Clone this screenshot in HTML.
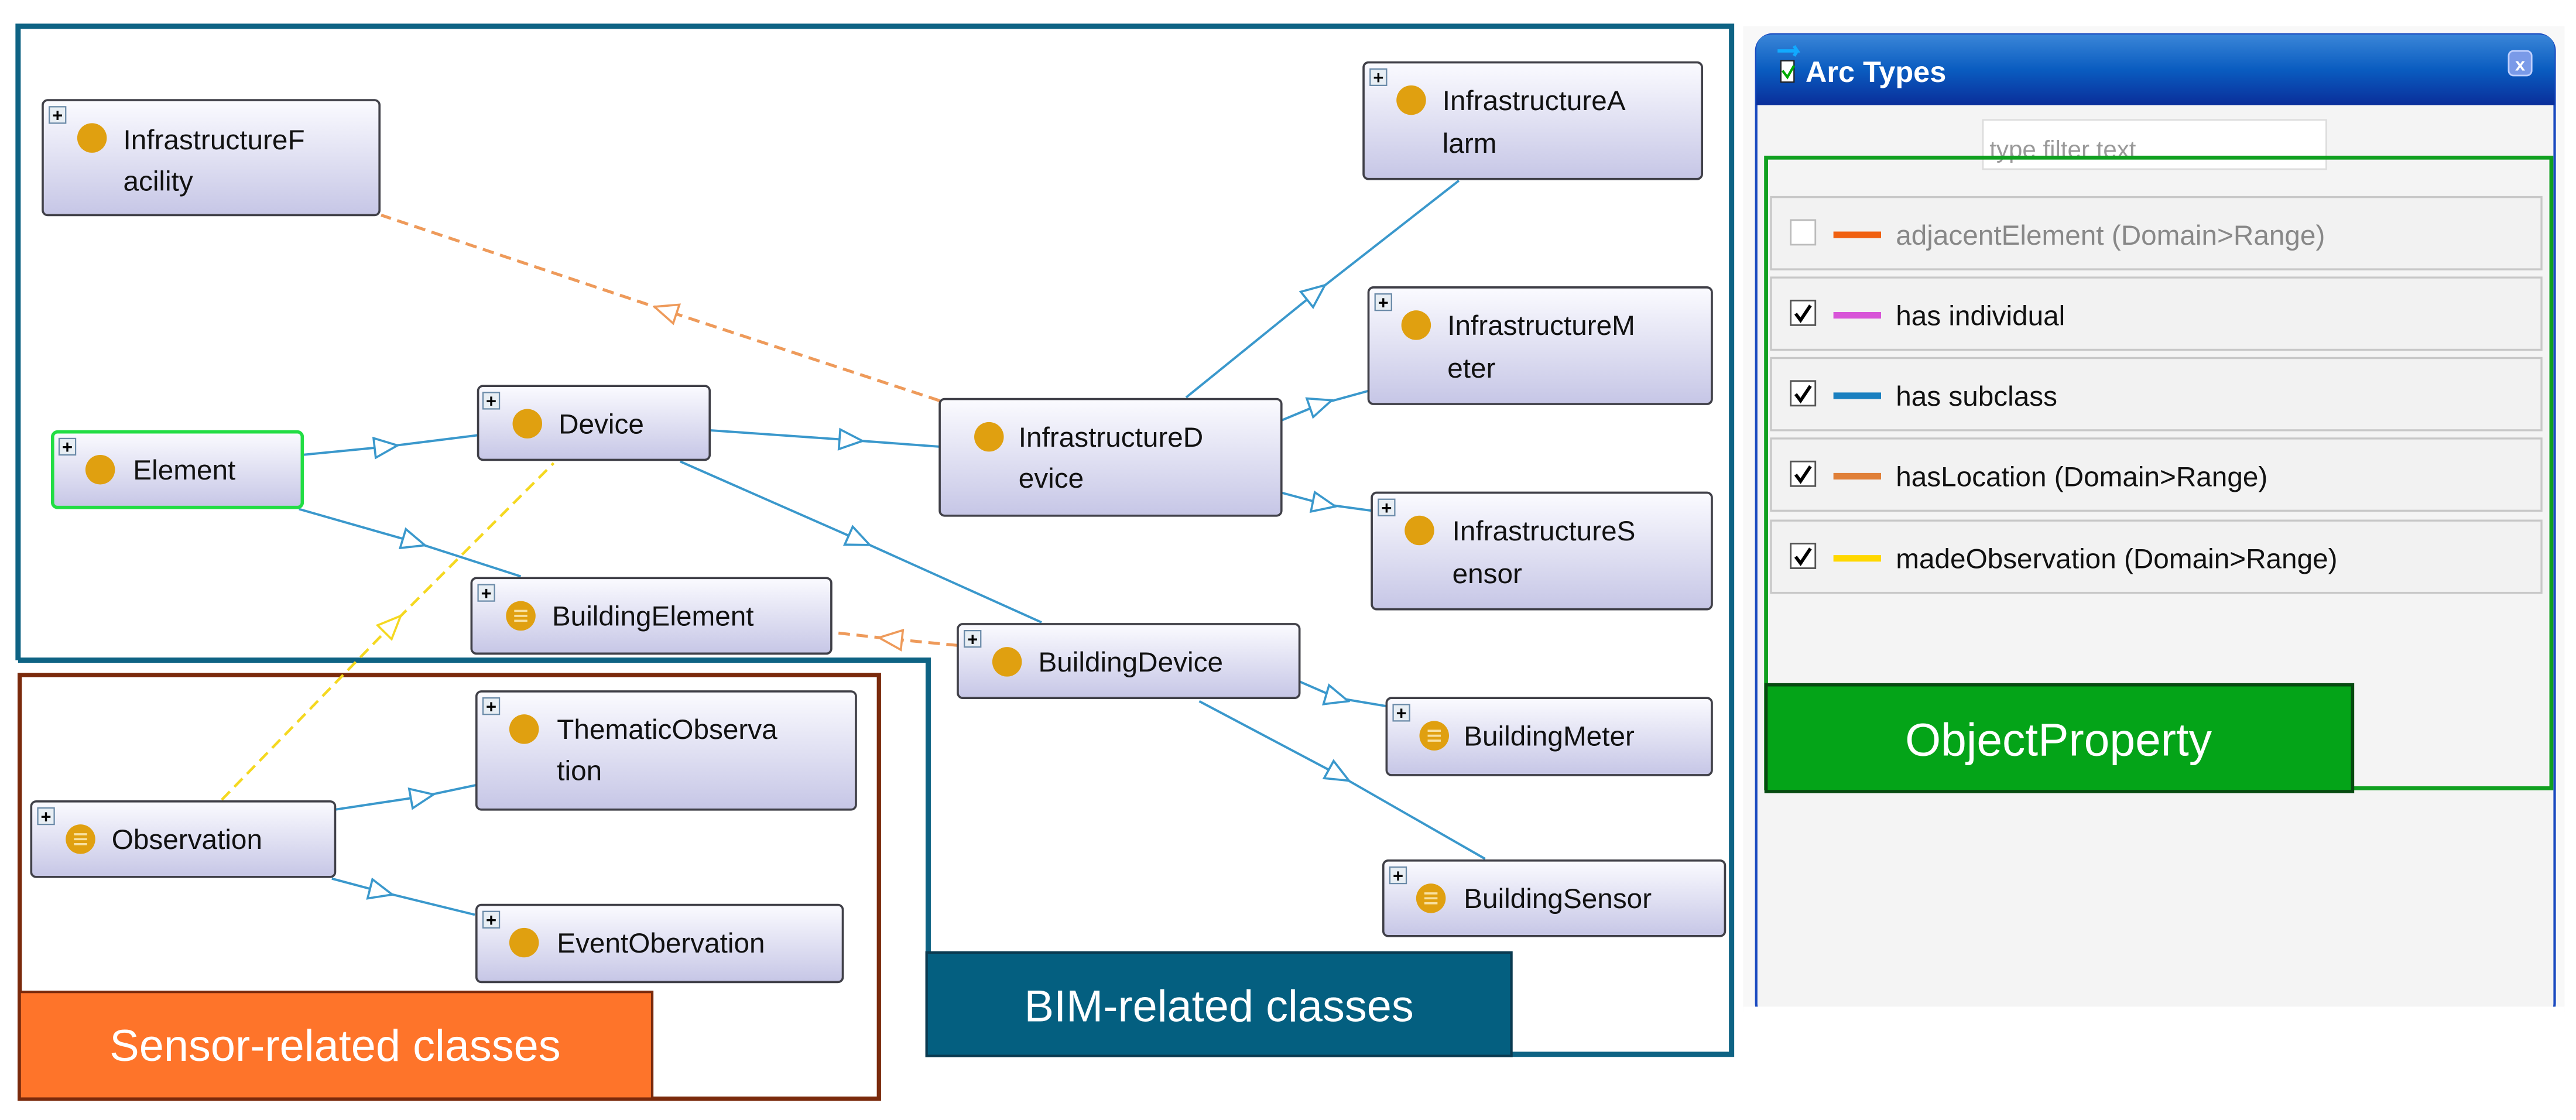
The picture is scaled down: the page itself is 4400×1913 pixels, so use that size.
<!DOCTYPE html>
<html><head><meta charset="utf-8"><style>
html,body{margin:0;padding:0;background:#fff;width:4400px;height:1913px;overflow:hidden}
svg{display:block}
.t{font-family:"Liberation Sans Narrow","Liberation Sans",sans-serif;font-size:17px;fill:#111}
.p{font-family:"Liberation Sans Narrow","Liberation Sans",sans-serif;font-size:17px;fill:#111}
</style></head><body>
<svg width="4400" height="1913" viewBox="0 0 1568 682" preserveAspectRatio="none" xmlns="http://www.w3.org/2000/svg">
<defs>
<linearGradient id="g" x1="0" y1="0" x2="0" y2="1"><stop offset="0" stop-color="#fbfbff"/><stop offset="1" stop-color="#c6c6e6"/></linearGradient>
<linearGradient id="hb" x1="0" y1="0" x2="0" y2="1"><stop offset="0" stop-color="#3a86d8"/><stop offset="0.5" stop-color="#0a5cc0"/><stop offset="1" stop-color="#0a2e9a"/></linearGradient>
<marker id="ab" viewBox="0 0 16 14" refX="8" refY="7" markerWidth="16" markerHeight="14" markerUnits="userSpaceOnUse" orient="auto"><path d="M1,1 L15,7 L1,13 Z" fill="#fff" stroke="#3a98cc" stroke-width="1.3"/></marker>
<marker id="ao" viewBox="0 0 16 14" refX="8" refY="7" markerWidth="16" markerHeight="14" markerUnits="userSpaceOnUse" orient="auto"><path d="M1,1 L15,7 L1,13 Z" fill="#fff" stroke="#ee9a5a" stroke-width="1.3"/></marker>
<marker id="ay" viewBox="0 0 16 14" refX="8" refY="7" markerWidth="16" markerHeight="14" markerUnits="userSpaceOnUse" orient="auto"><path d="M1,1 L15,7 L1,13 Z" fill="#fff" stroke="#f5d820" stroke-width="1.3"/></marker>
</defs>

<!-- frames -->
<path d="M11,402 L11,16 L1054,16 L1054,642 L920,642" fill="none" stroke="#0e6384" stroke-width="3.2"/>
<path d="M11,402 L565,402 L565,600" fill="none" stroke="#0e6384" stroke-width="3.2"/>
<rect x="12" y="411" width="523" height="258" fill="none" stroke="#7a2a0c" stroke-width="2.6"/>
<rect x="564" y="580" width="356" height="63" fill="#045f80" stroke="#0a3a50" stroke-width="1.5"/>
<text x="742" y="622" text-anchor="middle" font-family="Liberation Sans,sans-serif" font-size="27" fill="#fff">BIM-related classes</text>
<rect x="12" y="604" width="385" height="65" fill="#fe742a" stroke="#7a2a0c" stroke-width="1.5"/>
<text x="204" y="646" text-anchor="middle" font-family="Liberation Sans,sans-serif" font-size="27" fill="#fff">Sensor-related classes</text>

<!-- edges -->
<g fill="none" stroke="#3a98cc" stroke-width="1.4">
<polyline points="184,277 235,272 291,265" marker-mid="url(#ab)"/>
<polyline points="182,310 252,330 317,351" marker-mid="url(#ab)"/>
<polyline points="432,262 518,268 572,272" marker-mid="url(#ab)"/>
<polyline points="414,281 523,329 634,379" marker-mid="url(#ab)"/>
<polyline points="722,242 801,178 888,110" marker-mid="url(#ab)"/>
<polyline points="780,256 804,246 833,238" marker-mid="url(#ab)"/>
<polyline points="780,300 806,307 835,311" marker-mid="url(#ab)"/>
<polyline points="791,415 814,425 844,430" marker-mid="url(#ab)"/>
<polyline points="730,427 815,472 904,523" marker-mid="url(#ab)"/>
<polyline points="204,493 257,485 290,478" marker-mid="url(#ab)"/>
<polyline points="202,535 232,543 289,557" marker-mid="url(#ab)"/>
</g>
<polyline points="572,244 405,189 232,131" fill="none" stroke="#ee9a5a" stroke-width="1.8" stroke-dasharray="7,4" marker-mid="url(#ao)"/>
<polyline points="583,393 542,389 506,385" fill="none" stroke="#ee9a5a" stroke-width="1.8" stroke-dasharray="7,4" marker-mid="url(#ao)"/>
<polyline points="135,487 239,380 337,282" fill="none" stroke="#f5d820" stroke-width="1.6" stroke-dasharray="7,4" marker-mid="url(#ay)"/>

<!-- nodes -->
<g stroke="#404048" stroke-width="1.3" fill="url(#g)">
<rect x="26" y="61" width="205" height="70" rx="3"/>
<rect x="291" y="235" width="141" height="45" rx="3"/>
<rect x="572" y="243" width="208" height="71" rx="3"/>
<rect x="287" y="352" width="219" height="46" rx="3"/>
<rect x="583" y="380" width="208" height="45" rx="3"/>
<rect x="290" y="421" width="231" height="72" rx="3"/>
<rect x="19" y="488" width="185" height="46" rx="3"/>
<rect x="290" y="551" width="223" height="47" rx="3"/>
<rect x="830" y="38" width="206" height="71" rx="3"/>
<rect x="833" y="175" width="209" height="71" rx="3"/>
<rect x="835" y="300" width="207" height="71" rx="3"/>
<rect x="844" y="425" width="198" height="47" rx="3"/>
<rect x="842" y="524" width="208" height="46" rx="3"/>
</g>
<rect x="32" y="263" width="152" height="46" rx="3" fill="url(#g)" stroke="#22dd44" stroke-width="2"/>

<!-- plus boxes -->
<g fill="#e8eef4" stroke="#6a8aa8" stroke-width="0.8">
<rect x="30" y="65" width="10" height="10"/><rect x="36" y="267" width="10" height="10"/>
<rect x="294" y="239" width="10" height="10"/><rect x="291" y="356" width="10" height="10"/>
<rect x="587" y="384" width="10" height="10"/><rect x="294" y="425" width="10" height="10"/>
<rect x="23" y="492" width="10" height="10"/><rect x="294" y="555" width="10" height="10"/>
<rect x="834" y="42" width="10" height="10"/><rect x="837" y="179" width="10" height="10"/>
<rect x="839" y="304" width="10" height="10"/><rect x="848" y="429" width="10" height="10"/>
<rect x="846" y="528" width="10" height="10"/>
</g>
<g font-family="Liberation Sans,sans-serif" font-size="11" font-weight="bold" fill="#000" text-anchor="middle">
<text x="35" y="74">+</text><text x="41" y="276">+</text><text x="299" y="248">+</text><text x="296" y="365">+</text>
<text x="592" y="393">+</text><text x="299" y="434">+</text><text x="28" y="501">+</text><text x="299" y="564">+</text>
<text x="839" y="51">+</text><text x="842" y="188">+</text><text x="844" y="313">+</text><text x="853" y="438">+</text><text x="851" y="537">+</text>
</g>

<!-- circles -->
<g fill="#e0a010">
<circle cx="56" cy="84" r="9"/><circle cx="61" cy="286" r="9"/><circle cx="321" cy="258" r="9"/>
<circle cx="602" cy="266" r="9"/><circle cx="613" cy="403" r="9"/><circle cx="319" cy="444" r="9"/>
<circle cx="319" cy="574" r="9"/><circle cx="859" cy="61" r="9"/><circle cx="862" cy="198" r="9"/>
<circle cx="864" cy="323" r="9"/>
<circle cx="317" cy="375" r="9"/><circle cx="49" cy="511" r="9"/><circle cx="873" cy="448" r="9"/><circle cx="871" cy="547" r="9"/>
</g>
<g stroke="#f8e0a0" stroke-width="1.3">
<path d="M313,372h8M313,375h8M313,378h8"/><path d="M45,508h8M45,511h8M45,514h8"/>
<path d="M869,445h8M869,448h8M869,451h8"/><path d="M867,544h8M867,547h8M867,550h8"/>
</g>

<!-- labels -->
<g class="t">
<text x="75" y="91">InfrastructureF</text><text x="75" y="116">acility</text>
<text x="81" y="292">Element</text>
<text x="340" y="264">Device</text>
<text x="620" y="272">InfrastructureD</text><text x="620" y="297">evice</text>
<text x="336" y="381">BuildingElement</text>
<text x="632" y="409">BuildingDevice</text>
<text x="339" y="450">ThematicObserva</text><text x="339" y="475">tion</text>
<text x="68" y="517">Observation</text>
<text x="339" y="580">EventObervation</text>
<text x="878" y="67">InfrastructureA</text><text x="878" y="93">larm</text>
<text x="881" y="204">InfrastructureM</text><text x="881" y="230">eter</text>
<text x="884" y="329">InfrastructureS</text><text x="884" y="355">ensor</text>
<text x="891" y="454">BuildingMeter</text>
<text x="891" y="553">BuildingSensor</text>
</g>

<!-- right panel -->
<rect x="1061" y="16" width="500" height="600" fill="#f8f8f8"/>
<rect x="1069" y="21" width="486" height="600" rx="10" fill="#f4f4f4" stroke="#1a4ac0" stroke-width="1.5"/>
<rect x="1061" y="613" width="500" height="69" fill="#fff"/>
<path d="M1069,64 L1069,31 Q1069,21 1079,21 L1545,21 Q1555,21 1555,31 L1555,64 Z" fill="url(#hb)"/>
<rect x="1084" y="37" width="8" height="13" fill="#fff" stroke="#222" stroke-width="0.8"/>
<path d="M1085,43 l3,4 l4,-7" stroke="#0a0" stroke-width="1.5" fill="none"/>
<path d="M1082,31 h12 l-2,-3 M1094,31 l-2,3" stroke="#1af" stroke-width="2" fill="none"/>
<text x="1099" y="50" font-family="Liberation Sans,sans-serif" font-weight="bold" font-size="18" fill="#fff">Arc Types</text>
<rect x="1527" y="31" width="14" height="15" rx="3" fill="#7a9ae8" stroke="#c0d0ff" stroke-width="1"/>
<text x="1534" y="43" font-family="Liberation Sans,sans-serif" font-weight="bold" font-size="11" fill="#fff" text-anchor="middle">x</text>
<rect x="1207" y="73" width="209" height="30" fill="#fff" stroke="#ddd" stroke-width="1"/>
<text x="1211" y="96" font-family="Liberation Sans Narrow,Liberation Sans,sans-serif" font-size="15" fill="#999">type filter text</text>
<g fill="#f2f2f2" stroke="#c8c8c8" stroke-width="1.2">
<rect x="1078" y="120" width="469" height="44"/><rect x="1078" y="169" width="469" height="44"/>
<rect x="1078" y="218" width="469" height="44"/><rect x="1078" y="267" width="469" height="44"/>
<rect x="1078" y="317" width="469" height="44"/>
</g>
<g fill="#fff" stroke="#bbb" stroke-width="1">
<rect x="1090" y="134" width="15" height="15"/><rect x="1090" y="183" width="15" height="15" stroke="#555"/>
<rect x="1090" y="232" width="15" height="15" stroke="#555"/><rect x="1090" y="281" width="15" height="15" stroke="#555"/>
<rect x="1090" y="331" width="15" height="15" stroke="#555"/>
</g>
<g stroke="#000" stroke-width="2" fill="none">
<path d="M1093,191 l3,4 l6,-9"/><path d="M1093,240 l3,4 l6,-9"/><path d="M1093,289 l3,4 l6,-9"/><path d="M1093,339 l3,4 l6,-9"/>
</g>
<g stroke-width="4">
<line x1="1116" y1="143" x2="1145" y2="143" stroke="#f06010"/>
<line x1="1116" y1="192" x2="1145" y2="192" stroke="#d855d8"/>
<line x1="1116" y1="241" x2="1145" y2="241" stroke="#1a80c0"/>
<line x1="1116" y1="290" x2="1145" y2="290" stroke="#e08038"/>
<line x1="1116" y1="340" x2="1145" y2="340" stroke="#ffd800"/>
</g>
<g class="p">
<text x="1154" y="149" fill="#888">adjacentElement (Domain&gt;Range)</text>
<text x="1154" y="198">has individual</text>
<text x="1154" y="247">has subclass</text>
<text x="1154" y="296">hasLocation (Domain&gt;Range)</text>
<text x="1154" y="346">madeObservation (Domain&gt;Range)</text>
</g>
<rect x="1075" y="96" width="478" height="384" fill="none" stroke="#10a020" stroke-width="2.4"/>
<rect x="1075" y="417" width="357" height="65" fill="#04a418" stroke="#064a10" stroke-width="2"/>
<text x="1253" y="460" text-anchor="middle" font-family="Liberation Sans,sans-serif" font-size="28" fill="#fff">ObjectProperty</text>
</svg>
</body></html>
